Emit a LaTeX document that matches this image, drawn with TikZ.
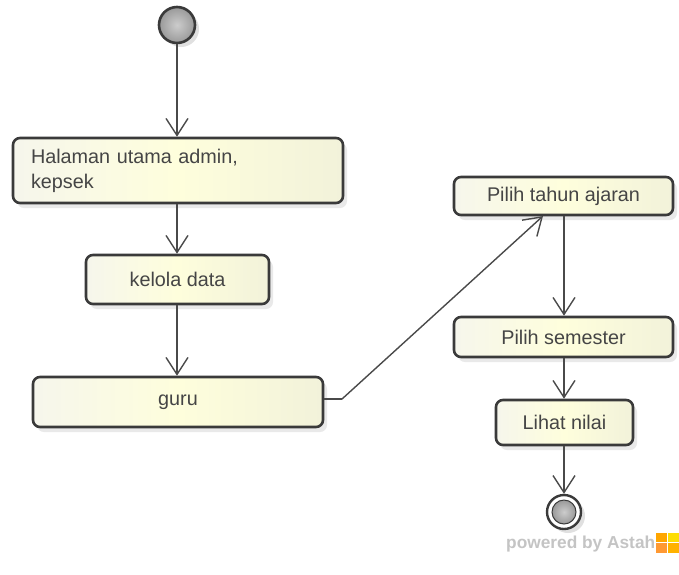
\documentclass[tikz,border=0pt]{standalone}
\usepackage{fontspec}
\setmainfont{Liberation Sans}
\usetikzlibrary{arrows.meta,shadows,positioning}
\definecolor{edgec}{HTML}{3A3A3A}
\definecolor{txtc}{HTML}{454545}
\definecolor{fillL}{HTML}{F6F6EC}
\definecolor{fillM}{HTML}{FEFEDC}
\definecolor{fillR}{HTML}{F2F2DA}
\definecolor{lineC}{HTML}{4A4A4A}
\definecolor{astah}{HTML}{C4C4C4}
\tikzset{
  act/.style={draw=edgec, line width=2.6pt, rounded corners=7pt,
    left color=fillL, right color=fillR, middle color=fillM,
    drop shadow={shadow xshift=4pt, shadow yshift=-5pt, fill=black!14, opacity=0.6},
    text=txtc, font=\fontsize{19.8}{25}\selectfont, inner sep=0pt},
  flow/.style={draw=lineC, line width=1.4pt,
    -{Straight Barb[length=17pt,width=22pt]}},
}
\begin{document}
\begin{tikzpicture}[x=1pt,y=-1pt]
\useasboundingbox (0,0) rectangle (679,574);
\fill[white] (0,0) rectangle (679,574);

% initial node
\fill[black!12] (181,29) circle (18);
\node[circle, minimum size=36pt, inner sep=0pt, draw=edgec, line width=2.6pt,
  shading=radial, inner color=gray!40, outer color=gray!80] (start) at (177,25) {};

% actions
\node[act, minimum width=330pt, minimum height=65pt, text width=294pt, align=left]
  (halaman) at (178,170.5) {Halaman utama admin,\\kepsek};
\node[act, minimum width=183pt, minimum height=49pt] (kelola) at (177.5,279.5) {kelola data};
\node[act, minimum width=290pt, minimum height=50pt] (guru) at (178,402) {guru};
\node[act, minimum width=219pt, minimum height=38pt] (tahun) at (563.5,196) {Pilih tahun ajaran};
\node[act, minimum width=219pt, minimum height=40pt] (semester) at (563.5,337) {Pilih semester};
\node[act, minimum width=137pt, minimum height=45pt] (nilai) at (564.5,422.5) {Lihat nilai};

% final node
\fill[black!12] (568,516) circle (17);
\node[circle, minimum size=34pt, inner sep=0pt, draw=edgec, line width=2.4pt, fill=white] (final) at (564,512) {};
\node[circle, minimum size=24pt, inner sep=0pt, draw=edgec, line width=1pt,
  shading=radial, inner color=gray!40, outer color=gray!80] (finalin) at (564,512) {};

% connectors
\coordinate (bend) at (342,399);
\coordinate (tahunin) at (543,216);
\draw[flow] (start) -- (halaman.north -| start);
\draw[flow] (halaman.south -| start) -- (kelola.north -| start);
\draw[flow] (kelola.south -| start) -- (guru.north -| start);
\draw[draw=lineC, line width=1.4pt] (guru.east |- bend) -- (bend);
\draw[flow] (bend) -- (tahunin);
\draw[flow] (tahun.south -| final) -- (semester.north -| final);
\draw[flow] (semester.south -| final) -- (nilai.north -| final);
\draw[flow] (nilai.south -| final) -- (final.north);

% watermark
\node[anchor=base west, inner sep=0pt, text=astah, font=\bfseries\fontsize{17.3}{17}\selectfont]
  (powered) at (506,548) {powered by Astah};
\fill[orange!70!yellow] (656,533) rectangle (667,542);
\fill[yellow!80!orange] (668,533) rectangle (679,542);
\fill[orange!80] (656,543) rectangle (667,553);
\fill[orange!60!yellow] (668,543) rectangle (679,553);
\end{tikzpicture}
\end{document}
